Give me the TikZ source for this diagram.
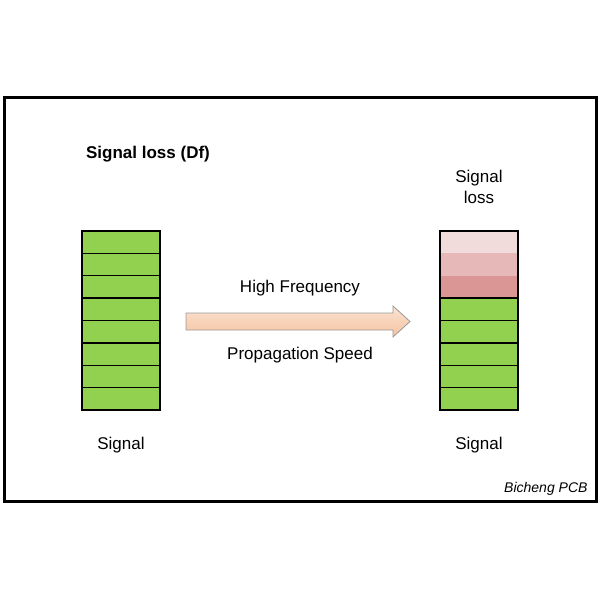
\documentclass[tikz,border=0pt]{standalone}
\usepackage{fontspec}
\setmainfont{Liberation Sans}
\usetikzlibrary{shapes.arrows}
\definecolor{gr}{HTML}{92D050}
\definecolor{p1}{HTML}{F2DCDB}
\definecolor{p2}{HTML}{E6B9B8}
\definecolor{p3}{HTML}{D99694}
\definecolor{pe1}{HTML}{FBE3D2}
\definecolor{pe2}{HTML}{F5C2A0}
\begin{document}
\begin{tikzpicture}[x=1pt,y=-1pt,
  cell/.style={draw=black,line width=1.4pt,fill=gr},
  lbl/.style={font=\fontsize{17}{20}\selectfont,align=center}]
\useasboundingbox (0,0) rectangle (600,600);
\fill[white] (0,0) rectangle (600,600);
\draw[line width=3pt] (4,97) rectangle (596,501);
\foreach \i in {0,...,7}{
  \draw[cell] (82,{231+\i*22.375}) rectangle (160,{231+(\i+1)*22.375});
}
\fill[p1] (440,231) rectangle (518,253.4);
\fill[p2] (440,253.4) rectangle (518,275.8);
\fill[p3] (440,275.8) rectangle (518,298.2);
\foreach \i in {3,...,7}{
  \draw[cell] (440,{231+\i*22.375}) rectangle (518,{231+(\i+1)*22.375});
}
\draw[line width=1.4pt] (440,231) rectangle (518,410);
\node[lbl,font=\bfseries\fontsize{17}{20}\selectfont] (t) at (148,154) {Signal loss (Df)};
\node[lbl] (sl) at (479,187) {Signal\\[1pt]loss};
\node[lbl] (s1) at (121,445) {Signal};
\node[lbl] (s2) at (479,445) {Signal};
\node[lbl] (hf) at (300,288) {High Frequency};
\node[lbl] (ps) at (300,355) {Propagation Speed};
\node[font=\itshape\fontsize{14}{16}\selectfont,anchor=east] (b) at (591,489) {Bicheng PCB};
\draw[draw=gray!80,line width=0.8pt,top color=pe1,bottom color=pe2]
  (186,313) -- (393,313) -- (393,306) -- (410,321.5) -- (393,337) -- (393,330) -- (186,330) -- cycle;
\end{tikzpicture}
\end{document}
